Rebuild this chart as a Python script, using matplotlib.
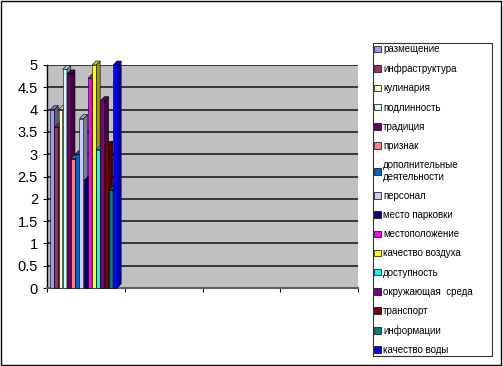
import numpy as np
import matplotlib
matplotlib.use('Agg')
import matplotlib.pyplot as plt
from matplotlib.patches import Polygon, Rectangle, Patch
import matplotlib.colors as mcolors

plt.rcParams['font.family'] = ['Liberation Sans', 'DejaVu Sans']

# Данные
categorias = ['размещение', 'инфраструктура', 'кулинария', 'подлинность', 'традиция',
              'признак', 'дополнительные\nдеятельности', 'персонал', 'место парковки',
              'местоположение', 'качество воздуха', 'доступность', 'окружающая  среда',
              'транспорт', 'информации', 'качество воды']
valores = [4.0, 3.6, 4.0, 4.9, 4.8, 2.9, 3.0, 3.8, 2.4, 4.7, 5.0, 3.1, 4.2, 3.2, 2.2, 5.0]
colores = ['#9999FF', '#993366', '#FFFFCC', '#CCFFFF', '#660066', '#FF8080', '#0066CC',
           '#CCCCFF', '#000080', '#FF00FF', '#FFFF00', '#00FFFF', '#800080', '#800000',
           '#008080', '#0000FF']
yticks = [0, 0.5, 1, 1.5, 2, 2.5, 3, 3.5, 4, 4.5, 5]
ytick_labels = ['0', '0.5', '1', '1.5', '2', '2.5', '3', '3.5', '4', '4.5', '5']

fig = plt.figure(figsize=(5.03, 3.66), dpi=100)
fig.patch.set_facecolor('white')
ax = fig.add_axes([47/503, (366-288)/366, (358-47)/503, (288-65)/366])
ax.set_facecolor('#C0C0C0')
ax.set_xlim(0, 4)
ax.set_ylim(0, 5)

# profundidad 3D
dx = 0.05
dy = 0.09
ancho = 0.054
x0 = 0.04

for y in yticks[1:]:
    ax.axhline(y, color='#202020', lw=1.2, zorder=1)

def oscurecer(c, f=0.6):
    r, g, b = mcolors.to_rgb(c)
    return (r*f, g*f, b*f)

for i, (v, c) in enumerate(zip(valores, colores)):
    x = x0 + i*ancho
    ax.add_patch(Rectangle((x, 0), ancho, v, facecolor=c, edgecolor='black', lw=0.4,
                           zorder=3, clip_on=False))
    lado = [(x+ancho, 0), (x+ancho+dx, dy), (x+ancho+dx, v+dy), (x+ancho, v)]
    ax.add_patch(Polygon(lado, closed=True, facecolor=oscurecer(c), edgecolor='black',
                         lw=0.4, zorder=3, clip_on=False))
    tapa = [(x, v), (x+dx, v+dy), (x+ancho+dx, v+dy), (x+ancho, v)]
    ax.add_patch(Polygon(tapa, closed=True, facecolor=oscurecer(c, 0.8), edgecolor='black',
                         lw=0.4, zorder=3, clip_on=False))

ax.set_yticks(yticks)
ax.set_yticklabels(ytick_labels, fontsize=10.5)
ax.set_xticks([0, 1, 2, 3, 4])
ax.set_xticklabels([])
ax.tick_params(axis='both', length=3, width=0.8, color='black', direction='out')
for s in ['top', 'right']:
    ax.spines[s].set_visible(False)
ax.spines['left'].set_color('black')
ax.spines['bottom'].set_color('#606060')
ax.spines['bottom'].set_linewidth(1.5)
ax.spines['left'].set_linewidth(1.0)

# leyenda
manejadores = [Patch(facecolor=c, edgecolor='black', lw=0.5) for c in colores]
ley = fig.legend(manejadores, categorias, loc='upper left', mode='expand',
                 bbox_to_anchor=(373/503, 1 - 43/366, 119/503, 0), fontsize=7,
                 frameon=True, fancybox=False, edgecolor='black',
                 handlelength=0.65, handleheight=0.65, handletextpad=0.25,
                 labelspacing=0.945, borderpad=0.15, borderaxespad=0)
ley.get_frame().set_linewidth(0.8)

# marco exterior
fig.patches.append(Rectangle((0.002, 0.003), 0.994, 0.993, transform=fig.transFigure,
                             fill=False, edgecolor='black', lw=1.0))

fig.savefig('out.png', dpi=100)
